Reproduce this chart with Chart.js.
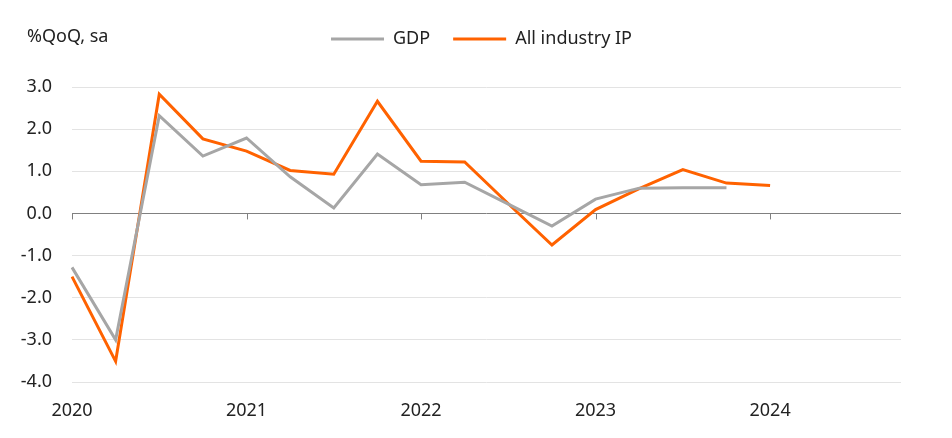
<!DOCTYPE html>
<html>
<head>
<meta charset="utf-8">
<script src="https://cdn.jsdelivr.net/npm/chart.js@4"></script>
<style>
  html, body { margin: 0; padding: 0; background: #fff; }
  #wrap { width: 952px; height: 438px; }
</style>
</head>
<body>
<div id="wrap"><canvas id="chart"></canvas></div>
<script>
// quarterly data, 2020 Q1 .. 2024 Q4
const quarters = [
    '2020 Q1', '2020 Q2', '2020 Q3', '2020 Q4',
    '2021 Q1', '2021 Q2', '2021 Q3', '2021 Q4',
    '2022 Q1', '2022 Q2', '2022 Q3', '2022 Q4',
    '2023 Q1', '2023 Q2', '2023 Q3', '2023 Q4',
    '2024 Q1', '2024 Q2', '2024 Q3', '2024 Q4'
];
const gdp = [-1.28, -3.0, 2.32, 1.36, 1.79, 0.87, 0.13, 1.41, 0.68, 0.74, 0.22, -0.30, 0.34, 0.60, 0.61, 0.61, null, null, null, null];
const industryIP = [-1.5, -3.51, 2.83, 1.77, 1.48, 1.02, 0.93, 2.66, 1.24, 1.22, 0.23, -0.75, 0.09, 0.59, 1.04, 0.72, 0.66, null, null, null];
const yTicks = [3, 2, 1, 0, -1, -2, -3, -4];

const FONT = '"Noto Sans", sans-serif';
const TEXT = '#222222';
const SIZE = 18;

// y-axis unit label, small year ticks on the zero line, legend spacing
const extras = {
    id: 'extras',
    beforeInit(chart) {
        // leave more room between legend and plot
        const fit = chart.legend.fit;
        chart.legend.fit = function () {
            fit.call(this);
            this.height += 29;
        };
    },
    afterLayout(chart) {
        // legend sits a little right of the plot centre
        chart.legend.left += 31;
        chart.legend.right += 31;
    },
    afterDraw(chart) {
        const ctx = chart.ctx;
        const x = chart.scales.x, y = chart.scales.y;
        ctx.save();
        ctx.font = SIZE + 'px ' + FONT;
        ctx.fillStyle = TEXT;
        ctx.textBaseline = 'middle';
        ctx.fillText('%QoQ, sa', 27, 37);

        ctx.strokeStyle = '#808080';
        ctx.lineWidth = 1;
        const y0 = y.getPixelForValue(0);
        quarters.forEach((q, i) => {
            if (q.endsWith('Q1')) {
                const px = Math.round(x.getPixelForValue(i)) + 0.5;
                ctx.beginPath();
                ctx.moveTo(px, y0);
                ctx.lineTo(px, y0 + 6);
                ctx.stroke();
            }
        });
        ctx.restore();
    }
};

new Chart(document.getElementById('chart'), {
    type: 'line',
    data: {
        labels: quarters,
        datasets: [
            {
                label: 'GDP',
                data: gdp,
                borderColor: '#a6a6a6',
                backgroundColor: '#a6a6a6',
                borderWidth: 3,
                pointRadius: 0,
                tension: 0
            },
            {
                label: 'All industry IP',
                data: industryIP,
                borderColor: '#ff6200',
                backgroundColor: '#ff6200',
                borderWidth: 3,
                pointRadius: 0,
                tension: 0
            }
        ]
    },
    options: {
        responsive: true,
        maintainAspectRatio: false,
        animation: false,
        layout: { padding: { top: 7, right: 51, left: 0, bottom: 0 } },
        plugins: {
            tooltip: { enabled: false },
            legend: {
                position: 'top',
                labels: {
                    boxWidth: 53,
                    boxHeight: 3,
                    padding: 23,
                    color: TEXT,
                    font: { family: FONT, size: SIZE },
                    generateLabels: (chart) =>
                        Chart.defaults.plugins.legend.labels.generateLabels(chart)
                            .map(item => ({ ...item, lineWidth: 0 }))
                }
            }
        },
        scales: {
            x: {
                type: 'category',
                offset: false,
                grid: { display: false },
                border: { display: false },
                afterFit: (scale) => { scale.height = 56; },
                ticks: {
                    autoSkip: false,
                    maxRotation: 0,
                    padding: 10,
                    color: TEXT,
                    font: { family: FONT, size: SIZE },
                    callback: function (value, index) {
                        const q = quarters[index];
                        return q.endsWith('Q1') ? q.slice(0, 4) : '';
                    }
                }
            },
            y: {
                min: -4,
                max: 3,
                border: { display: false },
                afterFit: (scale) => { scale.width = 72; },
                afterBuildTicks: (scale) => {
                    scale.ticks = yTicks.map(v => ({ value: v }));
                },
                grid: {
                    drawTicks: false,
                    color: (c) => c.tick && c.tick.value === 0 ? '#808080' : '#e3e3e3',
                    lineWidth: 1
                },
                ticks: {
                    padding: 20,
                    color: TEXT,
                    font: { family: FONT, size: SIZE },
                    callback: (v) => v.toFixed(1)
                }
            }
        }
    },
    plugins: [extras]
});
</script>
</body>
</html>
